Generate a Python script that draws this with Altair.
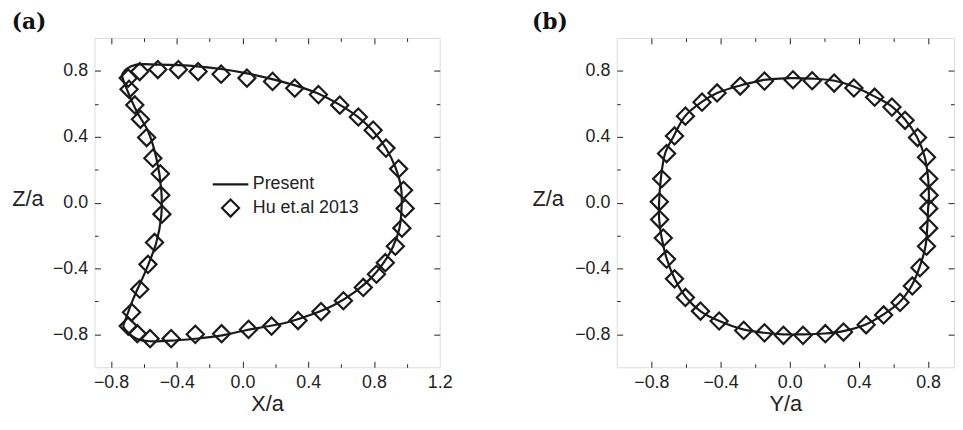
import altair as alt
import pandas as pd

# ---------------- data ----------------
series = ["Present", "Hu et.al 2013"]

# Panel (a): X/a vs Z/a
a_line_x = [-0.735, -0.705, -0.645, -0.515, -0.39, -0.26, -0.12, 0.02, 0.18, 0.32,
            0.46, 0.59, 0.70, 0.79, 0.87, 0.93, 0.965, 0.968, 0.955, 0.915,
            0.855, 0.78, 0.68, 0.56, 0.42, 0.28, 0.17, 0.02, -0.124, -0.27,
            -0.40, -0.565, -0.645, -0.705, -0.725, -0.715, -0.665, -0.585, -0.525, -0.494,
            -0.494, -0.525, -0.575, -0.645, -0.715, -0.735]
a_line_z = [0.776, 0.812, 0.838, 0.838, 0.835, 0.826, 0.81, 0.786, 0.75, 0.712,
            0.662, 0.595, 0.522, 0.44, 0.335, 0.215, 0.09, -0.03, -0.155, -0.27,
            -0.37, -0.46, -0.545, -0.62, -0.68, -0.725, -0.748, -0.775, -0.806, -0.825,
            -0.836, -0.842, -0.826, -0.78, -0.75, -0.72, -0.586, -0.405, -0.245, -0.08,
            0.075, 0.275, 0.435, 0.556, 0.716, 0.776]
a_hu_x = [-0.695, -0.625, -0.515, -0.39, -0.27, -0.13, 0.027, 0.183, 0.318, 0.462,
          0.592, 0.705, 0.795, 0.873, 0.95, 0.98, 0.99, 0.97, 0.93, 0.869,
          0.815, 0.735, 0.614, 0.478, 0.338, 0.177, 0.037, -0.127, -0.287, -0.434,
          -0.562, -0.64, -0.695, -0.675, -0.625, -0.575, -0.535, -0.49, -0.497, -0.50,
          -0.545, -0.583, -0.621, -0.655, -0.69]
a_hu_z = [0.756, 0.796, 0.808, 0.808, 0.796, 0.78, 0.756, 0.736, 0.695, 0.656,
          0.592, 0.52, 0.44, 0.331, 0.205, 0.075, -0.035, -0.155, -0.265, -0.365,
          -0.435, -0.515, -0.596, -0.662, -0.716, -0.75, -0.77, -0.796, -0.80, -0.826,
          -0.826, -0.796, -0.75, -0.666, -0.526, -0.375, -0.242, -0.07, 0.045, 0.175,
          0.27, 0.395, 0.506, 0.593, 0.688]

# Panel (b): Y/a vs Z/a
b_line_y = [-0.15, 0.0, 0.13, 0.26, 0.37, 0.49, 0.59, 0.667, 0.735, 0.78,
            0.80, 0.805, 0.80, 0.795, 0.785, 0.75, 0.705, 0.635, 0.54, 0.44,
            0.31, 0.20, 0.07, -0.04, -0.15, -0.27, -0.41, -0.515, -0.60, -0.665,
            -0.71, -0.74, -0.755, -0.755, -0.745, -0.72, -0.67, -0.605, -0.51, -0.42,
            -0.29, -0.15]
b_line_z = [0.745, 0.756, 0.753, 0.74, 0.705, 0.645, 0.585, 0.505, 0.40, 0.28,
            0.15, 0.04, -0.04, -0.155, -0.265, -0.395, -0.505, -0.605, -0.68, -0.74,
            -0.78, -0.795, -0.80, -0.80, -0.79, -0.77, -0.718, -0.66, -0.575, -0.462,
            -0.345, -0.215, -0.10, 0.005, 0.145, 0.30, 0.405, 0.525, 0.61, 0.665,
            0.71, 0.745]
b_hu_y = [0.019, 0.13, 0.257, 0.371, 0.491, 0.591, 0.667, 0.739, 0.791, 0.804,
          0.806, 0.804, 0.804, 0.791, 0.753, 0.709, 0.638, 0.543, 0.442, 0.311,
          0.206, 0.077, -0.036, -0.146, -0.266, -0.408, -0.516, -0.603, -0.666, -0.712,
          -0.731, -0.752, -0.754, -0.74, -0.712, -0.666, -0.603, -0.507, -0.42, -0.286,
          -0.146]
b_hu_z = [0.746, 0.74, 0.726, 0.696, 0.64, 0.58, 0.50, 0.395, 0.275, 0.145,
          0.045, -0.035, -0.155, -0.265, -0.395, -0.506, -0.606, -0.682, -0.742, -0.786,
          -0.796, -0.806, -0.806, -0.791, -0.776, -0.719, -0.659, -0.576, -0.463, -0.343,
          -0.215, -0.103, 0.005, 0.145, 0.298, 0.405, 0.525, 0.61, 0.666, 0.708,
          0.738]

# axis ticks / labels
a_x_ticks = [-0.8, -0.6, -0.4, -0.2, 0.0, 0.2, 0.4, 0.6, 0.8, 1.0]
a_x_labels = [-0.8, -0.4, 0.0, 0.4, 0.8, 1.2]
b_y_ticks = [-0.8, -0.6, -0.4, -0.2, 0.0, 0.2, 0.4, 0.6, 0.8]
b_y_labels = [-0.8, -0.4, 0.0, 0.4, 0.8]
z_ticks = [-0.8, -0.6, -0.4, -0.2, 0.0, 0.2, 0.4, 0.6, 0.8]
z_labels = [-0.8, -0.4, 0.0, 0.4, 0.8]

# ---------------- styling ----------------
SANS = "Liberation Sans, Arial, Helvetica, sans-serif"
SERIF = "DejaVu Serif, Liberation Serif, serif"
INK = "#1a1a1a"
TXT = "#222222"
H = 333
WA = 349
WB = 341

TICKSIZE = {"condition": {"test": "abs(round(datum.value * 10)) % 4 == 0", "value": 6},
            "value": 3.5}


def label_axis(orient, values, title, **kw):
    return alt.Axis(orient=orient, values=values, format=".1f", title=title,
                    ticks=False, tickSize=0, domain=False, grid=False,
                    labelFont=SANS, labelFontSize=18, labelColor=TXT,
                    labelFlush=False, labelOverlap=False,
                    titleFont=SANS, titleFontSize=22, titleFontWeight="normal",
                    titleColor=TXT, **kw)


def tick_axis(orient, values, offset):
    return alt.Axis(orient=orient, values=values, labels=False, title=None,
                    domain=False, grid=False, ticks=True, tickSize=TICKSIZE,
                    tickColor="#222222", tickWidth=1, offset=offset)


def x_label_axis(values, title):
    return label_axis("bottom", values, title, labelPadding=6,
                      titleBaseline="top", titleY=27)


def z_label_axis(title_x):
    return label_axis("left", z_labels, "Z/a", labelPadding=7, titleAngle=0,
                      titleAlign="right", titleBaseline="middle",
                      titleX=title_x, titleY=162)


def panel_title(t):
    return alt.TitleParams(text=t, anchor="start", frame="bounds", font=SERIF,
                           fontSize=22, fontWeight="bold", color="#111111", offset=4)


# ---------------- panel (a) ----------------
df_a_line = pd.DataFrame({"x": a_line_x, "z": a_line_z, "i": list(range(len(a_line_x)))})
df_a_hu = pd.DataFrame({"x": a_hu_x, "z": a_hu_z, "s": series[1]})

xs_a = alt.Scale(domain=[-0.9, 1.2], nice=False, zero=False)
zs = alt.Scale(domain=[-1.0, 1.0], nice=False, zero=False)

line_a = alt.Chart(df_a_line).mark_line(
    color=INK, strokeWidth=2.2, interpolate="catmull-rom"
).encode(
    x=alt.X("x:Q", scale=xs_a, axis=x_label_axis(a_x_labels, "X/a")),
    y=alt.Y("z:Q", scale=zs, axis=z_label_axis(-52)),
    order=alt.Order("i:Q"),
)

pts_a = alt.Chart(df_a_hu).mark_point(
    filled=False, color=INK, strokeWidth=2.2, size=300, opacity=1
).encode(
    x=alt.X("x:Q", scale=xs_a, axis=tick_axis("top", a_x_ticks, -H)),
    y=alt.Y("z:Q", scale=zs, axis=tick_axis("right", z_ticks, -WA)),
    shape=alt.Shape(
        "s:N",
        scale=alt.Scale(domain=series, range=["M-2.08,0H2.08", "diamond"]),
        legend=alt.Legend(
            title=None, orient="none", legendX=127.5, legendY=138, padding=0,
            labelFont=SANS, labelFontSize=18, labelColor=TXT, labelOffset=12.5,
            symbolSize=300, symbolStrokeWidth=2.2, symbolStrokeColor=INK,
            symbolFillColor="transparent", rowPadding=1,
        ),
    ),
)

ghost_a = alt.Chart(df_a_hu).mark_point(opacity=0).encode(
    x=alt.X("x:Q", scale=xs_a, axis=tick_axis("bottom", a_x_ticks, -H)),
    y=alt.Y("z:Q", scale=zs, axis=tick_axis("left", z_ticks, -WA)),
)

panel_a = alt.layer(line_a, pts_a, ghost_a).resolve_axis(
    x="independent", y="independent"
).properties(width=WA, height=H, title=panel_title("(a)"))

# ---------------- panel (b) ----------------
df_b_line = pd.DataFrame({"y": b_line_y, "z": b_line_z, "i": list(range(len(b_line_y)))})
df_b_hu = pd.DataFrame({"y": b_hu_y, "z": b_hu_z})

ys_b = alt.Scale(domain=[-1.0, 0.95], nice=False, zero=False)

line_b = alt.Chart(df_b_line).mark_line(
    color=INK, strokeWidth=2.2, interpolate="catmull-rom"
).encode(
    x=alt.X("y:Q", scale=ys_b, axis=x_label_axis(b_y_labels, "Y/a")),
    y=alt.Y("z:Q", scale=zs, axis=z_label_axis(-54)),
    order=alt.Order("i:Q"),
)

pts_b = alt.Chart(df_b_hu).mark_point(
    shape="diamond", filled=False, color=INK, strokeWidth=2.2, size=300, opacity=1
).encode(
    x=alt.X("y:Q", scale=ys_b, axis=tick_axis("top", b_y_ticks, -H)),
    y=alt.Y("z:Q", scale=zs, axis=tick_axis("right", z_ticks, -WB)),
)

ghost_b = alt.Chart(df_b_hu).mark_point(opacity=0).encode(
    x=alt.X("y:Q", scale=ys_b, axis=tick_axis("bottom", b_y_ticks, -H)),
    y=alt.Y("z:Q", scale=zs, axis=tick_axis("left", z_ticks, -WB)),
)

panel_b = alt.layer(line_b, pts_b, ghost_b).resolve_axis(
    x="independent", y="independent"
).properties(width=WB, height=H, title=panel_title("(b)"))

chart = alt.hconcat(panel_a, panel_b, spacing=78).resolve_legend(
    shape="independent"
).properties(
    padding={"left": 2.5, "top": 0, "right": 0, "bottom": 0}
).configure_view(
    stroke="#222222", strokeWidth=1.6
).configure(background="white")

chart.save("out.html", embed_options={"renderer": "svg", "actions": False})
